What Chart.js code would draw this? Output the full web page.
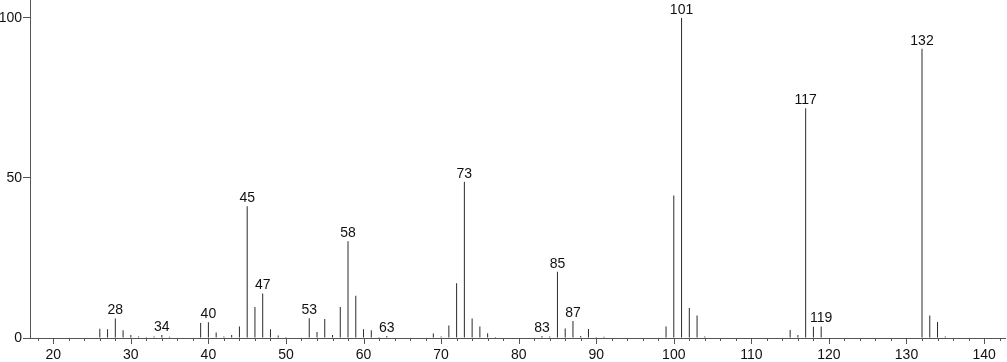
<!DOCTYPE html>
<html>
<head>
<meta charset="utf-8">
<script src="https://cdn.jsdelivr.net/npm/chart.js@4.4.1/dist/chart.umd.min.js"></script>
<style>
html,body{margin:0;padding:0;background:#fff;}
#wrap{width:1007px;height:362px;position:relative;}
</style>
</head>
<body>
<div id="wrap"><canvas id="c"></canvas></div>
<script>
const mz = [26,27,28,29,30,31,32,33,34,35,39,40,41,42,43,44,45,46,47,48,49,50,53,54,55,56,57,58,59,60,61,62,63,69,70,71,72,73,74,75,76,77,83,84,85,86,87,88,89,90,91,99,100,101,102,103,104,115,116,117,118,119,132,133,134,135];
const intensity = [2.9,2.7,6.1,2.4,0.9,0.5,0.3,0.5,0.9,0.4,4.7,4.9,1.7,0.5,0.9,3.6,41.2,9.7,13.9,2.7,0.8,0.3,6.2,1.9,5.9,0.9,9.7,30.2,13.2,2.7,2.4,0.3,0.6,1.4,0.5,3.9,17.1,48.8,6.1,3.6,1.5,0.3,0.6,0.5,20.7,3.0,5.3,0.6,2.8,0.3,0.4,3.6,44.5,100,9.4,7.0,0.5,2.5,0.9,71.8,3.5,3.6,90.4,7.0,5.0,0.5];
const labelledPeaks = [28,34,40,45,47,53,58,63,73,83,85,87,101,117,119,132];
const xTickValues = [20,30,40,50,60,70,80,90,100,110,120,130,140];
const yTickValues = [0,50,100];

const FONT = '"Liberation Sans", Arial, Helvetica, sans-serif';
const AXIS_COLOR = '#555';

const peakLabelPlugin = {
  id: 'peakLabels',
  afterDatasetsDraw(chart) {
    const ctx = chart.ctx;
    const meta = chart.getDatasetMeta(0);
    ctx.save();
    ctx.font = '14px ' + FONT;
    ctx.fillStyle = '#111';
    ctx.textAlign = 'center';
    ctx.textBaseline = 'bottom';
    labelledPeaks.forEach(p => {
      const i = mz.indexOf(p);
      if (i < 0) return;
      const el = meta.data[i];
      ctx.fillText(String(p), el.x, el.y - 1);
    });
    ctx.restore();
  }
};

const minorTickPlugin = {
  id: 'minorTicks',
  afterDraw(chart) {
    const xs = chart.scales.x;
    const ctx = chart.ctx;
    const y0 = chart.chartArea.bottom;
    ctx.save();
    ctx.strokeStyle = AXIS_COLOR;
    ctx.lineWidth = 1;
    for (let v = 18; v <= 142; v += 2) {
      const px = Math.round(xs.getPixelForValue(v)) + 0.5;
      const len = (v % 10 === 0) ? 6 : 3;
      ctx.beginPath();
      ctx.moveTo(px, y0);
      ctx.lineTo(px, y0 + len);
      ctx.stroke();
    }
    ctx.restore();
  }
};

new Chart(document.getElementById('c'), {
  type: 'bar',
  data: {
    datasets: [{
      data: mz.map((m, i) => ({x: m, y: intensity[i]})),
      backgroundColor: '#2a2a2a',
      borderWidth: 0,
      barThickness: 1,
      inflateAmount: 0,
      grouped: false
    }]
  },
  options: {
    responsive: true,
    maintainAspectRatio: false,
    animation: false,
    layout: {padding: {top: 0, right: 2, left: 0, bottom: 0}},
    plugins: {legend: {display: false}, tooltip: {enabled: false}},
    scales: {
      x: {
        type: 'linear',
        offset: false,
        min: 17,
        max: 142.7,
        afterBuildTicks(s) { s.ticks = xTickValues.map(v => ({value: v})); },
        afterFit(s) { s.height = 24; s.paddingLeft = 0; s.paddingRight = 0; },
        grid: {display: true, drawOnChartArea: false, drawTicks: false, offset: false},
        border: {display: true, color: AXIS_COLOR, width: 1},
        ticks: {
          font: {family: FONT, size: 14},
          color: '#111',
          padding: 9,
          maxRotation: 0,
          autoSkip: false
        }
      },
      y: {
        min: 0,
        max: 105.6,
        afterBuildTicks(s) { s.ticks = yTickValues.map(v => ({value: v})); },
        afterFit(s) { s.width = 30; s.paddingTop = 0; s.paddingBottom = 0; },
        grid: {display: true, drawOnChartArea: false, drawTicks: true, tickLength: 7, tickColor: AXIS_COLOR},
        border: {display: true, color: AXIS_COLOR, width: 1},
        ticks: {
          font: {family: FONT, size: 14},
          color: '#111',
          padding: 1
        }
      }
    }
  },
  plugins: [peakLabelPlugin, minorTickPlugin]
});
</script>
</body>
</html>
